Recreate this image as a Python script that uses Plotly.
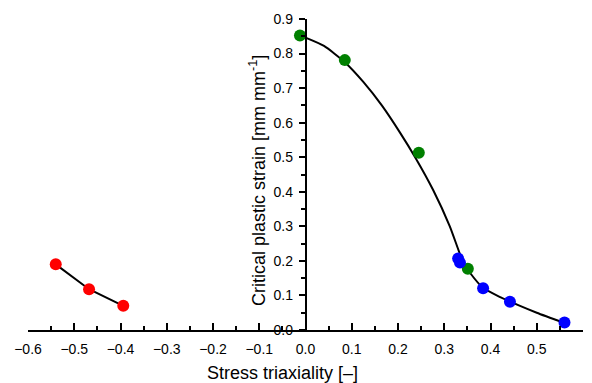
import plotly.graph_objects as go

# Data
red_x = [-0.540, -0.468, -0.394]
red_y = [0.190, 0.118, 0.070]

green_x = [-0.012, 0.085, 0.245, 0.351]
green_y = [0.852, 0.781, 0.513, 0.177]

blue_x = [0.330, 0.334, 0.384, 0.442, 0.560]
blue_y = [0.207, 0.195, 0.121, 0.082, 0.022]

fit_x = [0.0, 0.04, 0.085, 0.125, 0.165, 0.204, 0.237, 0.276, 0.312, 0.341, 0.356, 0.384, 0.421, 0.46, 0.50, 0.56]
fit_y = [0.846, 0.822, 0.775, 0.718, 0.650, 0.572, 0.500, 0.405, 0.300, 0.196, 0.165, 0.122, 0.095, 0.072, 0.050, 0.020]

x_title = "Stress triaxiality [–]"
y_title = "Critical plastic strain [mm mm<sup>-1</sup>]"

fig = go.Figure()
fig.add_trace(go.Scatter(x=red_x, y=red_y, mode="lines", line=dict(color="black", width=2),
                         showlegend=False, hoverinfo="skip"))
fig.add_trace(go.Scatter(x=fit_x, y=fit_y, mode="lines",
                         line=dict(color="black", width=2, shape="spline", smoothing=0.6),
                         showlegend=False, hoverinfo="skip"))
fig.add_trace(go.Scatter(x=red_x, y=red_y, mode="markers", marker=dict(color="#ff0000", size=12),
                         showlegend=False))
fig.add_trace(go.Scatter(x=green_x, y=green_y, mode="markers", marker=dict(color="#008000", size=12),
                         showlegend=False))
fig.add_trace(go.Scatter(x=blue_x, y=blue_y, mode="markers", marker=dict(color="#0000ff", size=12),
                         showlegend=False))

font = "Liberation Sans, Arial, sans-serif"
fig.update_layout(
    width=592, height=383,
    margin=dict(l=28, r=9, t=19, b=53),
    paper_bgcolor="white", plot_bgcolor="white",
    font=dict(family=font, color="black"),
    xaxis=dict(
        range=[-0.6, 0.6], tick0=-0.6, dtick=0.1, tickformat=".1f",
        showgrid=False, zeroline=False, showline=True, linecolor="black", linewidth=1.5,
        ticks="inside", ticklen=7, tickwidth=1.5, tickcolor="black",
        minor=dict(dtick=0.05, tick0=-0.6, ticks="inside", ticklen=4, tickwidth=1.5, tickcolor="black"),
        tickfont=dict(size=14, family=font), ticklabelstandoff=5,
    ),
    yaxis=dict(
        range=[0, 0.9], tick0=0, dtick=0.1, tickformat=".1f",
        anchor="free", position=0.5,
        showgrid=False, zeroline=False, showline=True, linecolor="black", linewidth=1.5,
        ticks="outside", ticklen=6, tickwidth=1.5, tickcolor="black",
        minor=dict(dtick=0.05, tick0=0, ticks="outside", ticklen=4, tickwidth=1.5, tickcolor="black"),
        tickfont=dict(size=14, family=font), ticklabelstandoff=3,
    ),
    annotations=[
        dict(text=x_title, xref="paper", yref="paper", x=(282 - 28) / 555, y=(330 - 373) / 311,
             xanchor="center", yanchor="middle", showarrow=False, font=dict(size=18, family=font)),
        dict(text=y_title, xref="paper", yref="paper", x=(257 - 28) / 555, y=(330 - 181) / 311,
             xanchor="center", yanchor="middle", textangle=-90, showarrow=False,
             font=dict(size=18, family=font)),
    ],
)

fig.write_html("out.html")
